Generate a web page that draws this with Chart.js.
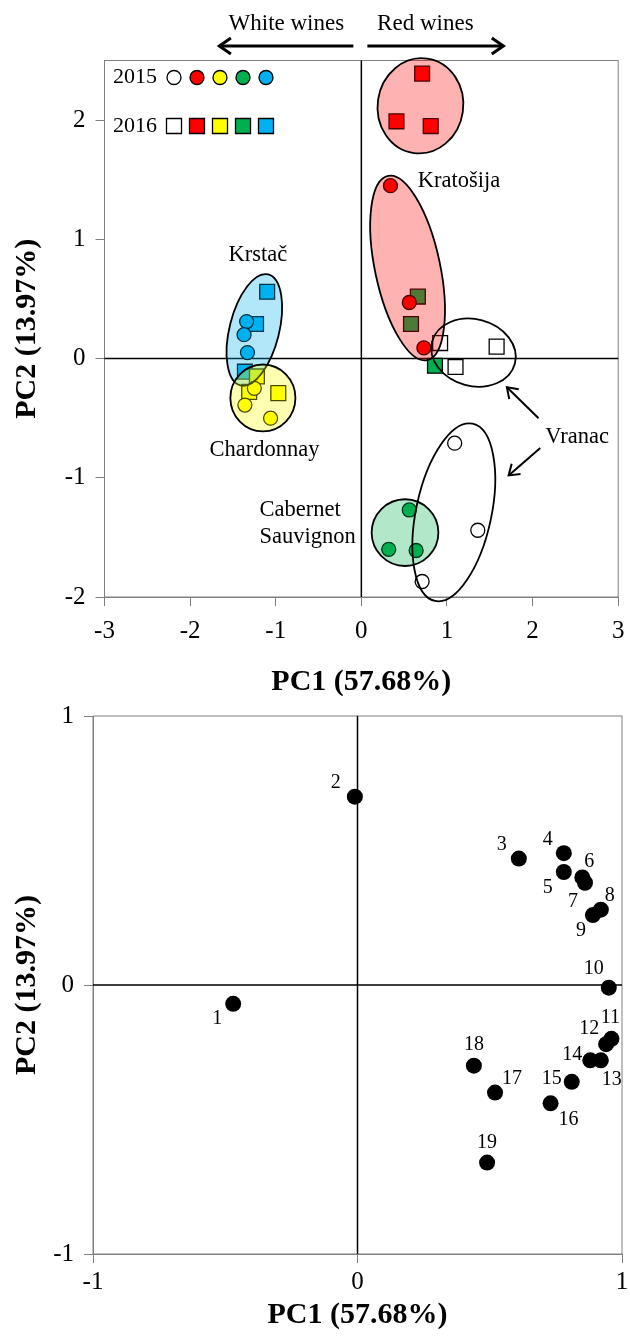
<!DOCTYPE html>
<html>
<head>
<meta charset="utf-8">
<script src="https://cdn.jsdelivr.net/npm/chart.js@4.4.0/dist/chart.umd.min.js"></script>
<style>
body { margin: 0; background: #fff; }
#wrap { position: relative; width: 630px; height: 1339px; }
#scores { position: absolute; left: 0; top: 0; }
#loadings { position: absolute; left: 0; top: 690px; }
</style>
</head>
<body>
<div id="wrap">
<canvas id="scores" width="630" height="700"></canvas>
<canvas id="loadings" width="630" height="649"></canvas>
</div>
<script>
// PCA scores, each point is [PC1, PC2]
var vranac2015 = [[1.09, -0.71], [1.36, -1.44], [0.71, -1.87]];
var vranac2016 = [[0.92, 0.13], [1.10, -0.07], [1.58, 0.10]];
var kratosija2015 = [[0.34, 1.45], [0.56, 0.47], [0.73, 0.09]];
var kratosija2016 = [[0.71, 2.39], [0.41, 1.99], [0.81, 1.95]];
var chardonnay2015 = [[-1.25, -0.25], [-1.36, -0.39], [-1.06, -0.50]];
var chardonnay2016 = [[-1.22, -0.15], [-1.31, -0.28], [-0.97, -0.29]];
var cabernet2015 = [[0.56, -1.27], [0.32, -1.60], [0.64, -1.61]];
var cabernet2016 = [[0.66, 0.52], [0.58, 0.29], [0.86, -0.06]];
var krstac2015 = [[-1.34, 0.31], [-1.37, 0.20], [-1.33, 0.05]];
var krstac2016 = [[-1.10, 0.56], [-1.23, 0.29], [-1.36, -0.11]];

// loadings of the 19 variables
var varNames = ['1', '2', '3', '4', '5', '6', '7', '8', '9', '10', '11', '12', '13', '14', '15', '16', '17', '18', '19'];
var loadPC1 = [-0.47, -0.01, 0.61, 0.78, 0.78, 0.85, 0.86, 0.92, 0.89, 0.95, 0.96, 0.94, 0.92, 0.88, 0.81, 0.73, 0.52, 0.44, 0.49];
var loadPC2 = [-0.07, 0.70, 0.47, 0.49, 0.42, 0.40, 0.38, 0.28, 0.26, -0.01, -0.20, -0.22, -0.28, -0.28, -0.36, -0.44, -0.40, -0.30, -0.66];

// tick labels
var scoreXTicks = [-3, -2, -1, 0, 1, 2, 3];
var scoreYTicks = [-2, -1, 0, 1, 2];
var loadTicks = [-1, 0, 1];

var yearLabels = ['2015', '2016'];
var cultivarColors = ['#ffffff', '#ff0000', '#ffff00', '#00b050', '#00b0f0'];

var serif = "'Liberation Serif', 'Times New Roman', serif";

// group ellipses: centre + semi-axes in data units, rotation in degrees
var groups = [
	{ x: 0.69, y: 2.12, rx: 0.50, ry: 0.40, rot: 8, fill: 'rgba(255,0,0,0.3)' },
	{ x: 0.54, y: 0.76, rx: 0.38, ry: 0.79, rot: -12, fill: 'rgba(255,0,0,0.3)' },
	{ x: -1.25, y: 0.24, rx: 0.29, ry: 0.48, rot: 14, fill: 'rgba(0,176,240,0.3)' },
	{ x: -1.15, y: -0.33, rx: 0.38, ry: 0.28, rot: 0, fill: 'rgba(255,255,0,0.3)' },
	{ x: 0.51, y: -1.46, rx: 0.39, ry: 0.28, rot: 0, fill: 'rgba(0,176,80,0.3)' },
	{ x: 1.31, y: 0.05, rx: 0.50, ry: 0.28, rot: 15, fill: null },
	{ x: 1.08, y: -1.29, rx: 0.44, ry: 0.76, rot: 12, fill: null }
];

var groupNames = [
	{ text: 'Kratošija', x: 1.14, y: 1.49, align: 'center' },
	{ text: 'Krstač', x: -1.21, y: 0.87, align: 'center' },
	{ text: 'Chardonnay', x: -1.13, y: -0.77, align: 'center' },
	{ text: 'Cabernet', x: -1.19, y: -1.27, align: 'left' },
	{ text: 'Sauvignon', x: -1.19, y: -1.50, align: 'left' },
	{ text: 'Vranac', x: 2.52, y: -0.66, align: 'center' }
];

// label offsets (px) for the loadings
var labelOffsets = [[-16, 15], [-19, -14], [-17, -14], [-16, -13], [-16, 16], [7, -16], [-12, 19], [9, -14], [-12, 16],
	[-15, -19], [-1, -21], [-17, -15], [11, 19], [-18, -6], [-20, -3], [18, 16], [17, -14], [0, -21], [0, -20]];

function toXY(pts) {
	return pts.map(function(p) { return { x: p[0], y: p[1] }; });
}

function series(label, pts, color, style) {
	return {
		label: label,
		data: toXY(pts),
		pointStyle: style,
		pointRadius: style === 'rect' ? 10.5 : 7,
		pointHoverRadius: style === 'rect' ? 10.5 : 7,
		pointBackgroundColor: color,
		pointBorderColor: '#000',
		pointBorderWidth: 1.3,
		showLine: false
	};
}

function fixedTicks(values) {
	return function(scale) {
		scale.ticks = values.map(function(v) { return { value: v }; });
	};
}

function arrow(ctx, x1, y1, x2, y2, head, width) {
	var ang = Math.atan2(y2 - y1, x2 - x1);
	ctx.lineWidth = width;
	ctx.beginPath();
	ctx.moveTo(x1, y1);
	ctx.lineTo(x2, y2);
	ctx.stroke();
	ctx.beginPath();
	ctx.moveTo(x2 - head * Math.cos(ang - 0.6), y2 - head * Math.sin(ang - 0.6));
	ctx.lineTo(x2, y2);
	ctx.lineTo(x2 - head * Math.cos(ang + 0.6), y2 - head * Math.sin(ang + 0.6));
	ctx.stroke();
}

// box + zero lines, drawn under the points
var frame = {
	id: 'frame',
	beforeDatasetsDraw: function(chart) {
		var a = chart.chartArea, ctx = chart.ctx;
		var x0 = chart.scales.x.getPixelForValue(0);
		var y0 = chart.scales.y.getPixelForValue(0);
		ctx.save();
		ctx.strokeStyle = '#808080';
		ctx.lineWidth = 1;
		ctx.strokeRect(a.left, a.top, a.right - a.left, a.bottom - a.top);
		ctx.strokeStyle = '#000';
		ctx.lineWidth = 1.5;
		ctx.beginPath();
		ctx.moveTo(a.left, y0); ctx.lineTo(a.right, y0);
		ctx.moveTo(x0, a.top); ctx.lineTo(x0, a.bottom);
		ctx.stroke();
		ctx.restore();
	}
};

var scoreDecor = {
	id: 'scoreDecor',
	afterDatasetsDraw: function(chart) {
		var ctx = chart.ctx, xs = chart.scales.x, ys = chart.scales.y, a = chart.chartArea;
		ctx.save();
		// ellipses
		groups.forEach(function(e) {
			var cx = xs.getPixelForValue(e.x), cy = ys.getPixelForValue(e.y);
			var rx = Math.abs(xs.getPixelForValue(e.x + e.rx) - cx);
			var ry = Math.abs(ys.getPixelForValue(e.y + e.ry) - cy);
			ctx.beginPath();
			ctx.ellipse(cx, cy, rx, ry, e.rot * Math.PI / 180, 0, 2 * Math.PI);
			if (e.fill) { ctx.fillStyle = e.fill; ctx.fill(); }
			ctx.lineWidth = 1.8;
			ctx.strokeStyle = '#000';
			ctx.stroke();
		});
		// names
		ctx.fillStyle = '#000';
		ctx.font = '22.5px ' + serif;
		ctx.textBaseline = 'middle';
		groupNames.forEach(function(g) {
			ctx.textAlign = g.align;
			ctx.fillText(g.text, xs.getPixelForValue(g.x), ys.getPixelForValue(g.y));
		});
		// Vranac arrows
		ctx.strokeStyle = '#000';
		ctx.lineJoin = 'miter';
		arrow(ctx, xs.getPixelForValue(2.07), ys.getPixelForValue(-0.50), xs.getPixelForValue(1.70), ys.getPixelForValue(-0.24), 12, 2);
		arrow(ctx, xs.getPixelForValue(2.09), ys.getPixelForValue(-0.75), xs.getPixelForValue(1.72), ys.getPixelForValue(-0.98), 12, 2);

		// header
		var x0 = xs.getPixelForValue(0);
		ctx.font = '23px ' + serif;
		ctx.textAlign = 'center';
		ctx.fillText('White wines', x0 - 75, 24);
		ctx.fillText('Red wines', x0 + 64, 24);
		arrow(ctx, x0 - 8, 46, x0 - 142, 46, 14, 3);
		arrow(ctx, x0 + 6, 46, x0 + 142, 46, 14, 3);

		// year legend
		ctx.font = '22px ' + serif;
		ctx.textAlign = 'left';
		var rows = [a.top + 17, a.top + 65.5];
		yearLabels.forEach(function(lbl, r) {
			ctx.fillStyle = '#000';
			ctx.fillText(lbl, a.left + 8.5, rows[r]);
			cultivarColors.forEach(function(c, i) {
				var mx = a.left + 69.5 + i * 23, my = rows[r];
				ctx.beginPath();
				if (r === 0) ctx.arc(mx, my, 7, 0, 2 * Math.PI);
				else ctx.rect(mx - 7.5, my - 7.5, 15, 15);
				ctx.fillStyle = c;
				ctx.fill();
				ctx.lineWidth = 1.3;
				ctx.strokeStyle = '#000';
				ctx.stroke();
			});
		});
		ctx.restore();
	}
};

var loadLabels = {
	id: 'loadLabels',
	afterDatasetsDraw: function(chart) {
		var ctx = chart.ctx, meta = chart.getDatasetMeta(0);
		ctx.save();
		ctx.fillStyle = '#000';
		ctx.font = '20px ' + serif;
		ctx.textAlign = 'center';
		ctx.textBaseline = 'middle';
		meta.data.forEach(function(pt, i) {
			ctx.fillText(varNames[i], pt.x + labelOffsets[i][0], pt.y + labelOffsets[i][1]);
		});
		ctx.restore();
	}
};

// fixed axis box sizes, and no extra room for overhanging tick labels
function fitX(h) {
	return function(s) { s.height = h; s.paddingLeft = 0; s.paddingRight = 0; };
}
function fitY(w) {
	return function(s) { s.width = w; s.paddingTop = 0; s.paddingBottom = 0; };
}

function axisOpts(min, max, ticks, title, fit, tickPad, titlePad) {
	return {
		type: 'linear',
		min: min,
		max: max,
		afterBuildTicks: fixedTicks(ticks),
		afterFit: fit,
		grid: { drawOnChartArea: false, drawTicks: true, tickLength: 9, color: '#808080' },
		border: { display: true, color: '#808080' },
		ticks: { color: '#000', font: { family: serif, size: 25 }, padding: tickPad, maxRotation: 0 },
		title: { display: true, text: title, color: '#000', font: { family: serif, size: 30, weight: 'bold' }, padding: titlePad }
	};
}

var scoreCtx = document.getElementById('scores').getContext('2d');
var scoresChart = new Chart(scoreCtx, {
	type: 'scatter',
	data: {
		datasets: [
			series('Vranac 2015', vranac2015, cultivarColors[0], 'circle'),
			series('Kratošija 2015', kratosija2015, cultivarColors[1], 'circle'),
			series('Chardonnay 2015', chardonnay2015, cultivarColors[2], 'circle'),
			series('Cabernet Sauvignon 2015', cabernet2015, cultivarColors[3], 'circle'),
			series('Krstač 2015', krstac2015, cultivarColors[4], 'circle'),
			series('Vranac 2016', vranac2016, cultivarColors[0], 'rect'),
			series('Kratošija 2016', kratosija2016, cultivarColors[1], 'rect'),
			series('Chardonnay 2016', chardonnay2016, cultivarColors[2], 'rect'),
			series('Cabernet Sauvignon 2016', cabernet2016, cultivarColors[3], 'rect'),
			series('Krstač 2016', krstac2016, cultivarColors[4], 'rect')
		]
	},
	options: {
		responsive: false,
		animation: false,
		layout: { padding: { top: 60.5, right: 5.5, left: 0, bottom: 0 } },
		plugins: { legend: { display: false }, tooltip: { enabled: false } },
		scales: {
			x: axisOpts(-3, 3, scoreXTicks, 'PC1 (57.68%)', fitX(700 - 597), 10, { top: 0, bottom: 0 }),
			y: axisOpts(-2, 2.5, scoreYTicks, 'PC2 (13.97%)', fitY(104.5), 10, { top: 9, bottom: 0 })
		}
	},
	plugins: [frame, scoreDecor]
});

var loadCtx = document.getElementById('loadings').getContext('2d');
var loadingsChart = new Chart(loadCtx, {
	type: 'scatter',
	data: {
		datasets: [{
			label: 'Loadings',
			data: loadPC1.map(function(v, i) { return { x: v, y: loadPC2[i] }; }),
			pointStyle: 'circle',
			pointRadius: 8,
			pointHoverRadius: 8,
			pointBackgroundColor: '#000',
			pointBorderColor: '#000',
			pointBorderWidth: 0,
			showLine: false
		}]
	},
	options: {
		responsive: false,
		animation: false,
		layout: { padding: { top: 26, right: 5, left: 0, bottom: 0 } },
		plugins: { legend: { display: false }, tooltip: { enabled: false } },
		scales: {
			x: axisOpts(-1, 1, loadTicks, 'PC1 (57.68%)', fitX(649 - 564), 4, { top: 0, bottom: 6 }),
			y: axisOpts(-1, 1, loadTicks, 'PC2 (13.97%)', fitY(93), 10, { top: 9, bottom: 0 })
		}
	},
	plugins: [frame, loadLabels]
});
</script>
</body>
</html>
